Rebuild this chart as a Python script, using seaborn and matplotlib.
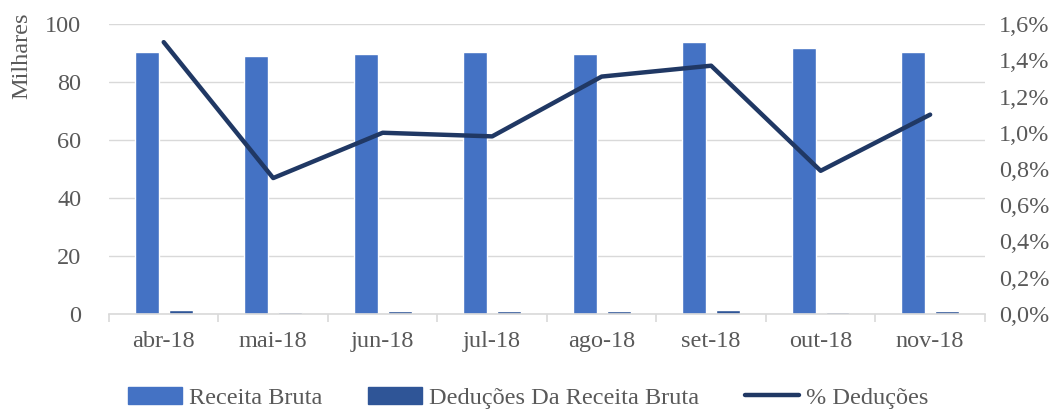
import matplotlib
matplotlib.use("Agg")
import matplotlib.pyplot as plt
import seaborn as sns
import pandas as pd
from matplotlib.ticker import FuncFormatter, FixedLocator
from matplotlib.patches import Patch
from matplotlib.lines import Line2D

months = ["abr-18", "mai-18", "jun-18", "jul-18", "ago-18", "set-18", "out-18", "nov-18"]
receita = [90.2, 89.1, 89.7, 90.2, 89.8, 93.7, 91.6, 90.3]
deducoes = [1.35, 0.67, 0.90, 0.88, 1.18, 1.28, 0.72, 0.99]
pct = [1.50, 0.75, 1.00, 0.98, 1.31, 1.37, 0.79, 1.10]

s1 = "Receita Bruta"
s2 = "Deduções Da Receita Bruta"
s3 = "% Deduções"

sns.set_theme(style="white")
plt.rcParams["font.family"] = ["Liberation Serif", "DejaVu Serif"]
gray = "#595959"
fs = 17.5

df = pd.DataFrame({
    "mes": months * 2,
    "valor": receita + deducoes,
    "serie": [s1] * len(months) + [s2] * len(months),
})

fig = plt.figure(figsize=(10.63, 4.12), dpi=100)
ax = fig.add_axes([0.1025, 0.2379, 0.824, 0.7038])
c1, c2, c3 = "#4472C4", "#2F5597", "#203864"
sns.barplot(data=df, x="mes", y="valor", hue="serie", palette=[c1, c2],
            width=0.62, gap=0.3, ax=ax, legend=False, saturation=1)
ax.set_xlim(-0.5, 7.5)
ax.set_ylim(0, 100)
ax.set_yticks(range(0, 101, 20))
ax.yaxis.grid(True, color="#D9D9D9", lw=1)
ax.set_axisbelow(True)
for sp in ["left", "right", "top"]:
    ax.spines[sp].set_visible(False)
ax.spines["bottom"].set_color("#D9D9D9")
ax.spines["bottom"].set_linewidth(1.2)
ax.tick_params(axis="x", which="major", length=0, labelsize=fs, labelcolor=gray, pad=12)
ax.xaxis.set_minor_locator(FixedLocator([i - 0.5 for i in range(len(months) + 1)]))
ax.tick_params(axis="x", which="minor", length=6, width=1.2, color="#D9D9D9", bottom=True)
ax.tick_params(axis="y", length=0, labelsize=fs, labelcolor=gray, pad=20)
ax.set_xlabel("")
ax.set_ylabel("Milhares", fontsize=fs, color=gray)
ax.yaxis.set_label_coords(-0.087, 0.89)

ax2 = ax.twinx()
sns.lineplot(x=list(range(len(months))), y=pct, ax=ax2, color=c3, lw=3.2,
             solid_capstyle="round", solid_joinstyle="round")
ax2.set_ylim(0, 1.6)
ax2.set_yticks([i * 0.2 for i in range(9)])
ax2.yaxis.set_major_formatter(FuncFormatter(lambda v, p: f"{v:.1f}%".replace(".", ",")))
ax2.tick_params(axis="y", length=0, labelsize=fs, labelcolor=gray, pad=10)
for sp in ax2.spines.values():
    sp.set_visible(False)
ax2.set_xlim(-0.5, 7.5)

handles = [Patch(color=c1), Patch(color=c2), Line2D([0], [0], color=c3, lw=3.2)]
fig.legend(handles, [s1, s2, s3], loc="center", bbox_to_anchor=(0.497, 0.034), ncol=3,
           frameon=False, fontsize=fs, labelcolor=gray, handlelength=2.2,
           handleheight=0.7, handletextpad=0.3, columnspacing=1.9)

fig.savefig("out.png", dpi=100)
